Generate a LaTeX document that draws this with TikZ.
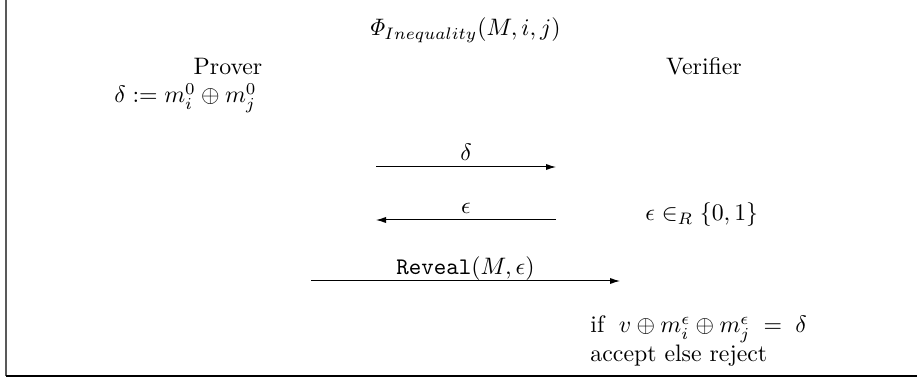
\documentclass[tikz,border=0pt]{standalone}
\usetikzlibrary{arrows.meta}
\begin{document}
\begin{tikzpicture}[x=0.42pt,y=-0.42pt,
  msg/.style={-{Latex[length=4.2pt,width=2.6pt]},line width=0.42pt},
  lbl/.style={inner sep=0pt,anchor=base,yshift=2.9pt},
  txt/.style={inner sep=0pt,anchor=base}]
\useasboundingbox (0,0) rectangle (917,380);
\draw[gray!70!black,line width=0.8pt] (6,0) -- (6,376) coordinate (c1);
\coordinate (c2) at (917,376);
\draw[line width=0.6pt] (c1) -- (c2);
\node[txt] (title) at (464,36) {$\mathit{\Phi}_{Inequality}(M,i,j)$};
\node[txt] (prover) at (228,75) {Prover};
\node[txt,anchor=base west] (init) at (114,103) {$\delta := m_i^0 \oplus m_j^0$};
\node[txt] (verifier) at (704,75) {Verifier};
\coordinate (a1s) at (376,167);
\coordinate (a1e) at (556,167);
\draw[msg] (a1s) -- node[lbl] (l1) {$\delta$} (a1e);
\coordinate (a2s) at (556,220);
\coordinate (a2e) at (376,220);
\draw[msg] (a2s) -- node[lbl] (l2) {$\epsilon$} (a2e);
\node[txt,anchor=base west] (chal) at (645,221) {$\epsilon \in_R \{0,1\}$};
\coordinate (a3s) at (311,281);
\coordinate (a3e) at (620,281);
\draw[msg] (a3s) -- node[lbl] (l3) {\texttt{Reveal}$(M,\epsilon)$} (a3e);
\node[txt,anchor=base west] (check) at (590,333) {if $\;v\oplus m_i^\epsilon \oplus m_j^\epsilon \;=\; \delta$};
\node[txt,anchor=base west] (dec) at (590,362) {accept else reject};
\end{tikzpicture}
\end{document}
